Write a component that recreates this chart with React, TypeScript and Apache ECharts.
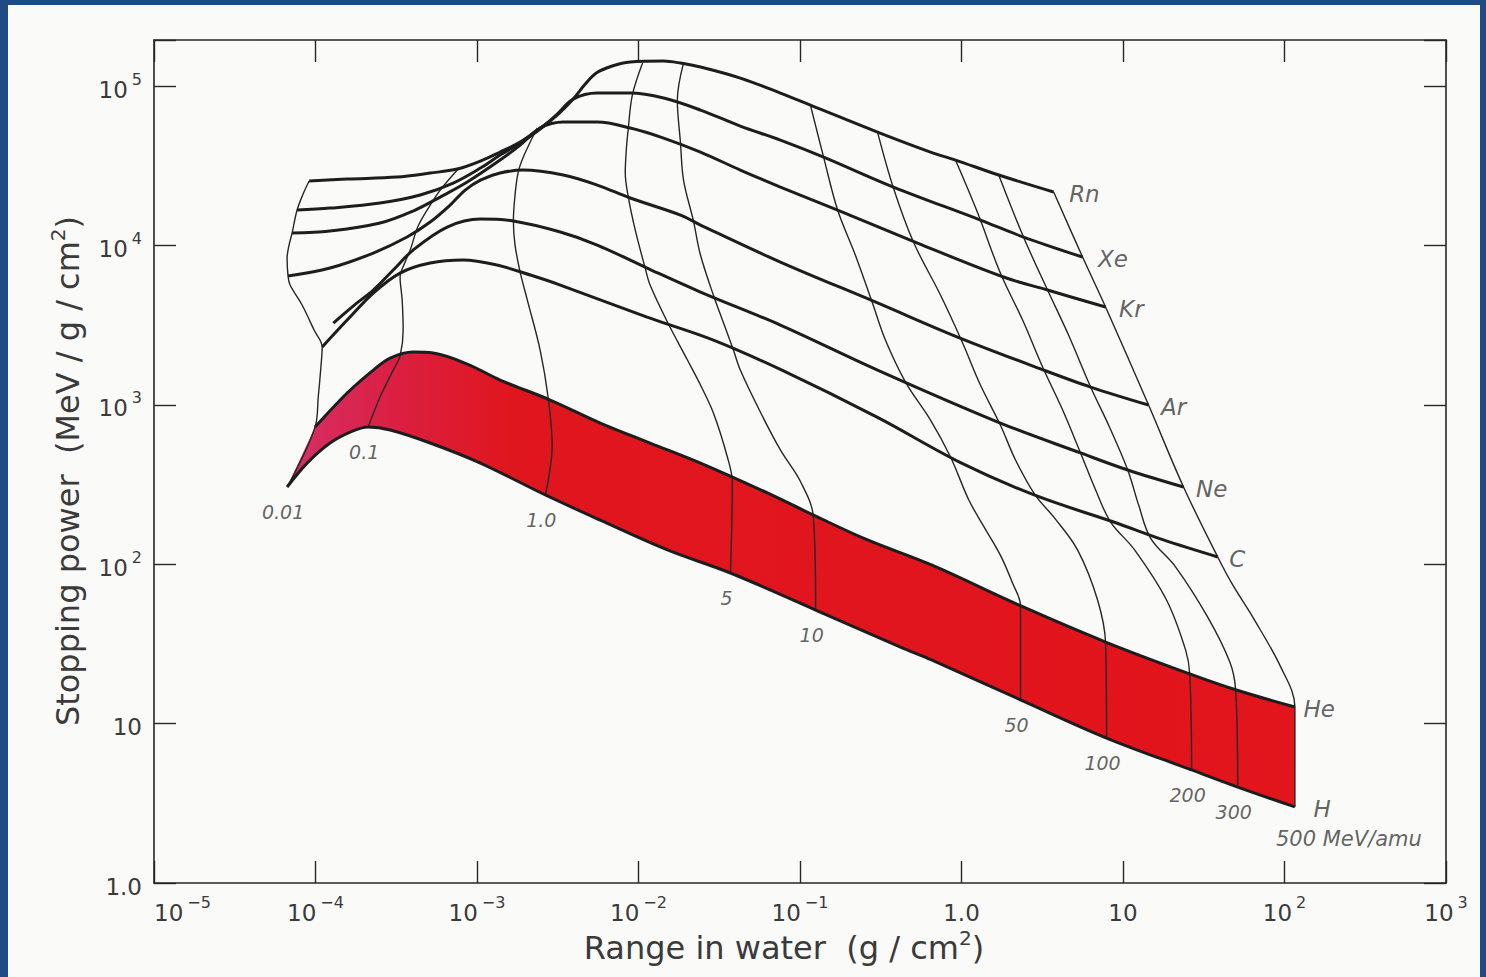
import React, { useEffect, useRef } from 'react';
import * as echarts from 'echarts';

// ---- data: [range in water (g/cm2), stopping power (MeV/g/cm2)] ----
// element curves (thick lines), from 0.01 MeV/amu to 500 MeV/amu
const H = [[6.67e-5,305],[8.87e-5,431],[1.23e-4,576],[1.64e-4,675],[2.12e-4,726],[2.90e-4,695],[5.13e-4,576],[1.05e-3,431],[2.65e-3,272],[5.80e-3,189],[0.0151,123],[0.0371,88.1],[0.125,51.6],[0.419,30.2],[0.652,25.1],[2.32,14.1],[7.91,8.12],[26.6,5.12],[51.3,4.0],[116,3.0]];
const He = [[9.94e-5,726],[1.57e-4,1186],[2.28e-4,1653],[2.90e-4,1966],[4.02e-4,2144],[5.35e-4,2113],[8.70e-4,1803],[1.39e-3,1431],[2.84e-3,1072],[5.80e-3,769],[0.0118,576],[0.0242,431],[0.0628,280],[0.128,198],[0.262,142],[0.652,98.9],[2.26,55.5],[7.80,32.5],[25.9,20.5],[49.8,16.3],[116,12.7]];
const C = [[1.10e-4,2305],[1.57e-4,3404],[2.28e-4,5028],[3.34e-4,6711],[5.13e-4,7756],[8.21e-4,8096],[1.33e-3,7534],[2.14e-3,6522],[3.28e-3,5644],[0.0113,3555],[0.0291,2550],[0.0756,1668],[0.302,834],[0.986,434],[2.87,270],[8.75,184],[17.8,142],[38.6,111]];
const Ne = [[1.29e-4,3261],[1.71e-4,4167],[2.28e-4,5252],[3.03e-4,7010],[4.02e-4,9357],[6.54e-4,13050],[1.05e-3,14640],[1.68e-3,14230],[3.28e-3,12140],[5.55e-3,10060],[0.0113,7216],[0.0242,5102],[0.0756,3167],[0.302,1653],[1.74,769],[5.46,499],[10.7,390],[23.7,305]];
const Ar = [[6.76e-5,6427],[1.23e-4,7216],[2.28e-4,8961],[3.69e-4,11290],[5.13e-4,14020],[6.82e-4,17920],[8.45e-4,22260],[1.05e-3,25720],[1.39e-3,28460],[1.93e-3,29720],[3.42e-3,27650],[5.55e-3,23930],[8.90e-3,19840],[0.0182,15510],[0.0242,13430],[0.0756,7869],[0.302,4360],[0.945,2663],[3.22,1653],[6.30,1293],[14.4,997]];
const Kr = [[7.16e-5,11960],[1.23e-4,12310],[2.51e-4,13820],[4.02e-4,16440],[5.92e-4,20120],[8.70e-4,24990],[1.39e-3,34340],[1.85e-3,42650],[2.46e-3,54520],[3.42e-3,59470],[5.55e-3,59470],[8.90e-3,54520],[0.0143,47190],[0.0242,38530],[0.0427,29720],[0.0756,23250],[0.171,16680],[0.534,10350],[1.82,6337],[3.41,5252],[7.80,4108]];
const Xe = [[7.69e-5,16680],[1.23e-4,17160],[2.51e-4,18450],[4.45e-4,20720],[7.12e-4,24630],[1.05e-3,30590],[1.39e-3,36910],[1.85e-3,43890],[2.46e-3,53740],[3.14e-3,66730],[3.94e-3,82860],[5.55e-3,90400],[8.90e-3,90400],[0.0143,84080],[0.0242,70700],[0.0427,56120],[0.0756,45830],[0.140,35850],[0.379,23250],[1.31,14430],[2.42,11290],[5.62,8458]];
const Rn = [[9.13e-5,25350],[1.57e-4,26100],[3.20e-4,26860],[5.13e-4,28460],[7.54e-4,30150],[1.05e-3,33850],[1.39e-3,38530],[1.85e-3,44540],[2.46e-3,54520],[3.14e-3,65790],[3.94e-3,82860],[4.68e-3,102900],[5.48e-3,120700],[6.88e-3,133600],[8.90e-3,141500],[0.0143,143500],[0.0182,139400],[0.0242,131600],[0.0427,112200],[0.0756,90400],[0.116,76000],[0.302,51450],[0.643,38530],[0.918,34340],[1.70,27650],[3.72,21630]];

// iso-energy lines (thin), MeV/amu, from H upward
const E001 = [[6.67e-5,305],[9.94e-5,726],[1.04e-4,1119],[1.08e-4,1727],[1.10e-4,2305],[9.80e-5,2946],[8.26e-5,4228],[6.96e-5,5644],[6.76e-5,6427],[6.67e-5,8337],[6.86e-5,10060],[7.16e-5,11960],[7.69e-5,16680],[8.38e-5,21010],[9.13e-5,25350]];
const E01 = [[2.12e-4,726],[2.51e-4,1119],[3.03e-4,1653],[3.34e-4,2024],[3.49e-4,2946],[3.44e-4,4544],[3.34e-4,6337],[3.59e-4,7869],[3.86e-4,9357],[4.32e-4,13230],[5.13e-4,17920],[5.92e-4,22260],[7.65e-4,30150]];
const E1 = [[2.65e-3,272],[2.92e-3,560],[2.76e-3,1103],[2.46e-3,2207],[2.05e-3,4544],[1.85e-3,6809],[1.72e-3,10060],[1.68e-3,14230],[1.72e-3,20720],[1.80e-3,28880],[1.96e-3,36910],[2.36e-3,54520]];
const E5 = [[0.0371,88.1],[0.0381,328],[0.0355,471],[0.0291,889],[0.0242,1331],[0.0201,1910],[0.0151,3308],[0.0118,5644],[0.0110,7216],[9.55e-3,12490],[8.65e-3,20120],[8.28e-3,28460],[8.40e-3,39660],[8.65e-3,54520],[9.16e-3,87800],[0.0106,139400]];
const E10 = [[0.125,51.6],[0.121,198],[0.101,328],[0.0756,521],[0.0568,901],[0.0427,1653],[0.0387,2207],[0.0331,3404],[0.0295,4677],[0.0242,8706],[0.0219,14230],[0.0190,25720],[0.0182,43890],[0.0174,81700],[0.0190,139400]];
const E50 = [[2.32,14.1],[2.32,54.7],[2.07,76.2],[1.74,114],[1.39,169],[1.11,253],[0.855,471],[0.643,803],[0.450,1390],[0.338,2550],[0.281,4351],[0.220,8706],[0.171,16680],[0.140,35850],[0.116,76000]];
const E100 = [[7.91,8.12],[7.80,32.0],[6.96,59.6],[5.23,123],[3.72,198],[2.87,270],[2.16,451],[1.74,747],[1.31,1331],[1.01,2477],[0.741,4885],[0.504,10500],[0.379,22920],[0.302,51450]];
const E200 = [[26.6,5.12],[25.9,20.5],[24.4,29.0],[18.6,59.6],[11.8,123],[8.38,184],[6.77,292],[5.46,499],[4.23,928],[3.22,1677],[2.39,3404],[1.74,6711],[1.26,15970],[0.918,34340]];
const E300 = [[51.3,4.0],[49.8,16.3],[45.8,24.4],[33.4,46.7],[21.2,96.0],[14.8,146],[12.5,235],[10.7,390],[8.14,747],[6.30,1293],[4.60,2741],[3.41,5252],[2.42,11290],[1.70,27650]];
const E500 = [[116,3.0],[116,12.7],[94.7,22.7],[63.5,46.7],[47.8,74.1],[38.6,111],[23.7,305],[14.4,997],[7.80,4108],[5.62,8458],[3.72,21630]];

const elementNames = ['H', 'He', 'C', 'Ne', 'Ar', 'Kr', 'Xe', 'Rn'];
const elementData = [H, He, C, Ne, Ar, Kr, Xe, Rn];
const isoNames = ['0.01', '0.1', '1.0', '5', '10', '50', '100', '200', '300', '500 MeV/amu'];
const isoData = [E001, E01, E1, E5, E10, E50, E100, E200, E300, E500];

// axis decades (log10)
const xMinDecade = -5;
const xMaxDecade = 3;
const yMinDecade = 0;
const yMaxDecade = 5.289;

// ---- styles ----
const FONT = '"DejaVu Sans", Lato, sans-serif';
const INK = '#262626';
const TEXT = '#3a3a3a';
const elementLabelDistance: Record<string, number> = { H: 18, He: 8, C: 11, Ne: 12, Ar: 12, Kr: 13, Xe: 15, Rn: 15 };

const toLog = (pts: number[][]) => pts.map(([x, y]) => [Math.log10(x), Math.log10(y)]);

const supText = (e: number) => (e < 0 ? '\u2212' + -e : String(e));
const decadeLabel = (v: number) => {
  const r = Math.round(v);
  if (Math.abs(v - r) > 1e-6) return '';
  if (r === 0) return '{b|1.0}';
  if (r === 1) return '{b|10}';
  return '{b|10}{s|' + supText(r) + '}';
};
const tickRich = {
  b: { fontSize: 23, fontFamily: FONT, color: TEXT, lineHeight: 30, verticalAlign: 'bottom' },
  s: { fontSize: 16, fontFamily: FONT, color: TEXT, lineHeight: 13, verticalAlign: 'top', padding: [0, 0, 0, 4] },
};

function buildOption(): any {
  const axisLine = { show: true, onZero: false, lineStyle: { color: INK, width: 1.6 } };
  const axisTick = { show: true, inside: true, length: 22, lineStyle: { color: INK, width: 1.4 } };

  const bandPoints = [...toLog(He), ...toLog(H).reverse()];

  const series: any[] = [];

  series.push({
    type: 'custom',
    coordinateSystem: 'cartesian2d',
    data: [[0, 0]],
    silent: true,
    z: 1,
    renderItem: (_params: any, api: any) => ({
      type: 'polygon',
      shape: { points: bandPoints.map((p) => api.coord(p)) },
      style: {
        fill: new echarts.graphic.LinearGradient(0, 0, 1, 0, [
          { offset: 0, color: '#d5306a' },
          { offset: 0.1, color: '#db2044' },
          { offset: 0.22, color: '#e0161f' },
          { offset: 1, color: '#e2141c' },
        ]),
        stroke: 'none',
      },
    }),
  });

  isoData.forEach((d, i) => {
    series.push({
      name: isoNames[i],
      type: 'line',
      data: toLog(d),
      showSymbol: false,
      smooth: 0.35,
      silent: true,
      z: 3,
      lineStyle: { color: INK, width: 1.4 },
    });
  });

  elementData.forEach((d, i) => {
    series.push({
      name: elementNames[i],
      type: 'line',
      data: toLog(d),
      showSymbol: false,
      smooth: 0.35,
      silent: true,
      z: 4,
      lineStyle: { color: '#1d1d1d', width: 3 },
    });
  });

  series.push({
    type: 'scatter',
    silent: true,
    z: 6,
    symbolSize: 1,
    itemStyle: { color: 'rgba(0,0,0,0)' },
    data: isoData.map((d, i) => {
      const item: any = { name: isoNames[i], value: toLog([d[0]])[0] };
      if (i === isoData.length - 1) item.label = { distance: 21, offset: [54, 0], fontSize: 21 };
      return item;
    }),
    label: {
      show: true,
      position: 'bottom',
      distance: 15,
      offset: [-4, 0],
      formatter: '{b}',
      fontStyle: 'italic',
      fontSize: 19,
      fontFamily: FONT,
      color: TEXT,
    },
  });

  series.push({
    type: 'scatter',
    silent: true,
    z: 6,
    symbolSize: 1,
    itemStyle: { color: 'rgba(0,0,0,0)' },
    data: elementData.map((d, i) => ({
      name: elementNames[i],
      value: toLog([d[d.length - 1]])[0],
      label: { distance: elementLabelDistance[elementNames[i]] },
    })),
    label: {
      show: true,
      position: 'right',
      offset: [0, 2],
      formatter: '{b}',
      fontStyle: 'italic',
      fontSize: 23,
      fontFamily: FONT,
      color: TEXT,
    },
  });

  const titleStyle = (text: string) => ({
    text,
    fontSize: 32,
    fontFamily: FONT,
    fill: TEXT,
    lineHeight: 40,
    align: 'center',
    verticalAlign: 'middle',
    textAlign: 'center',
    textVerticalAlign: 'middle',
    rich: { s: { fontSize: 20, fontFamily: FONT, fill: TEXT, lineHeight: 20, verticalAlign: 'top' } },
  });

  return {
    animation: false,
    backgroundColor: 'transparent',
    grid: { left: 146, top: 35, width: 1292, height: 843, containLabel: false },
    xAxis: [
      {
        type: 'value', position: 'bottom', min: xMinDecade, max: xMaxDecade, interval: 1,
        axisLine, axisTick, splitLine: { show: false },
        axisLabel: { margin: 11, formatter: decadeLabel, rich: tickRich, alignMinLabel: 'left' },
      },
      {
        type: 'value', position: 'top', min: xMinDecade, max: xMaxDecade, interval: 1,
        axisLine, axisTick, splitLine: { show: false }, axisLabel: { show: false },
      },
    ],
    yAxis: [
      {
        type: 'value', position: 'left', min: yMinDecade, max: yMaxDecade, interval: 1,
        axisLine, axisTick, splitLine: { show: false },
        axisLabel: { margin: 12, formatter: decadeLabel, rich: tickRich },
      },
      {
        type: 'value', position: 'right', min: yMinDecade, max: yMaxDecade, interval: 1,
        axisLine, axisTick, splitLine: { show: false }, axisLabel: { show: false },
      },
    ],
    graphic: [
      { type: 'text', x: 60, y: 466, rotation: Math.PI / 2, style: titleStyle('Stopping power  (MeV / g / cm{s|2})') },
      { type: 'text', x: 776, y: 943, style: titleStyle('Range in water  (g / cm{s|2})') },
    ],
    series,
  };
}

export default function App() {
  const ref = useRef<HTMLDivElement>(null);
  useEffect(() => {
    if (!ref.current) return;
    const chart = echarts.init(ref.current, null, { renderer: 'svg' });
    chart.setOption(buildOption());
    return () => chart.dispose();
  }, []);
  return (
    <div style={{ position: 'fixed', left: 0, top: 0, width: 1486, height: 977, background: '#1e4a86', overflow: 'hidden' }}>
      <div ref={ref} style={{ position: 'absolute', left: 8, top: 5, width: 1472, height: 972, background: '#fafaf9' }} />
    </div>
  );
}
